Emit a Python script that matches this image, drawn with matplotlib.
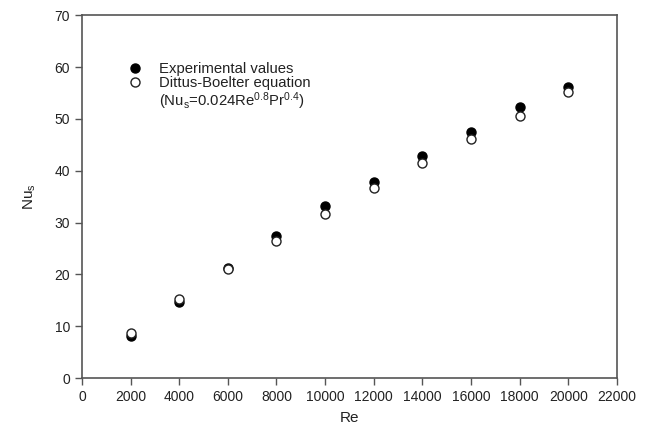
import numpy as np
import matplotlib.pyplot as plt
from matplotlib.lines import Line2D

plt.rcParams['font.family'] = ['Liberation Sans', 'DejaVu Sans']
plt.rcParams['mathtext.fontset'] = 'custom'
plt.rcParams['mathtext.rm'] = 'Liberation Sans'
plt.rcParams['mathtext.it'] = 'Liberation Sans'

# Reynolds numbers and Nusselt values
re_values = [2000, 4000, 6000, 8000, 10000, 12000, 14000, 16000, 18000, 20000]
nu_experimental = [8.1, 14.6, 21.3, 27.4, 33.1, 37.9, 42.8, 47.5, 52.3, 56.2]
nu_dittus_boelter = [8.7, 15.2, 21.0, 26.5, 31.6, 36.6, 41.4, 46.1, 50.6, 55.1]

x_ticks = np.arange(0, 22001, 2000)
y_ticks = np.arange(0, 71, 10)


def main():
    fig = plt.figure(figsize=(6.5, 4.34), dpi=100)
    ax = fig.add_axes([0.126, 0.129, 0.823, 0.836])

    axis_color = '#555555'
    text_color = '#222222'
    exp_line, = ax.plot(re_values, nu_experimental, 'o', color='black', markersize=6.5)
    db_line, = ax.plot(re_values, nu_dittus_boelter, 'o', markerfacecolor='white',
                       markeredgecolor='#222222', markeredgewidth=1.0, markersize=6.5)

    ax.set_xlim(0, 22000)
    ax.set_ylim(0, 70)
    ax.set_xticks(x_ticks)
    ax.set_yticks(y_ticks)
    ax.tick_params(direction='out', length=5, width=1, color=axis_color,
                   labelsize=10, labelcolor=text_color)
    for spine in ax.spines.values():
        spine.set_color(axis_color)
        spine.set_linewidth(1.2)

    ax.set_xlabel('Re', fontsize=11, color=text_color, labelpad=5)
    ax.set_ylabel('Nu$_\\mathrm{s}$', fontsize=11, color=text_color, labelpad=12)

    # legend: the equation sits on its own row with no marker
    blank = Line2D([], [], linestyle='none', marker=None)
    handles = [exp_line, db_line, blank]
    labels = ['Experimental values', 'Dittus-Boelter equation',
              '(Nu$_\\mathrm{s}$=0.024Re$^{0.8}$Pr$^{0.4}$)']
    leg = ax.legend(handles, labels, loc='upper left', bbox_to_anchor=(0.075, 0.887),
                    frameon=False, fontsize=10.7, handletextpad=1.1, handlelength=1.0,
                    labelspacing=0.02, borderaxespad=0)
    for text in leg.get_texts():
        text.set_color(text_color)

    fig.savefig('out.png', dpi=100)


if __name__ == "__main__":
    main()
